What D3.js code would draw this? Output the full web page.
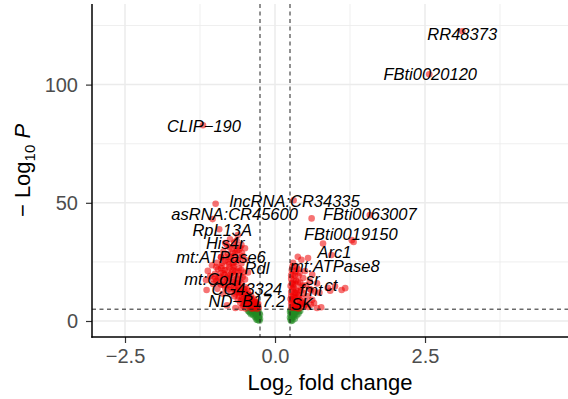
<!DOCTYPE html>
<html>
<head>
<meta charset="utf-8">
<script src="https://cdn.jsdelivr.net/npm/d3@7"></script>
<style>
   body { margin: 0; background: #fff; }
   svg text { font-family: "Liberation Sans", Arial, Helvetica, sans-serif; }
</style>
</head>
<body>
<svg id="chart" width="568" height="399"></svg>
<script>
/** DATA **/
// [log2 fold change, -log10 p] for genes passing both cutoffs
var redPoints = [
   [-0.99,49.6],[-0.62,36.4],[-0.75,34.6],[-0.68,33.2],[-0.56,32.2],[-0.8,32.0],
   [-0.5,30.8],[-0.72,30.5],[-0.63,29.8],[-0.86,29.4],[-0.55,28.6],[-0.78,28.3],
   [-0.68,27.6],[-0.9,27.1],[-0.6,26.8],[-0.74,26.2],[-0.5,25.9],[-0.83,25.5],
   [-0.65,25.0],[-0.97,24.6],[-0.56,24.3],[-0.77,24.0],
   [-1.05,23.6],[-0.88,23.2],[-0.7,22.8],[-0.6,22.3],[-0.95,21.9],[-0.8,21.5],
   [-1.12,21.2],[-0.66,20.9],[-0.52,20.5],[-0.86,20.2],[-1.0,20.0],
   [-0.74,19.7],[-0.58,19.3],[-1.08,19.0],[-0.92,18.7],[-0.8,18.4],[-0.64,18.0],
   [-0.5,17.6],[-1.15,17.3],[-0.98,17.0],[-0.86,16.7],[-0.7,16.4],[-0.56,16.1],
   [-1.03,15.7],[-0.9,15.4],[-0.77,15.1],[-0.62,14.8],[-0.5,14.4],[-0.83,14.0],
   [-0.96,13.6],[-0.68,13.3],[-1.14,13.1],[-0.56,12.9],[-0.45,12.5],[-0.74,12.2],
   [-0.6,11.8],[-0.87,11.5],[-0.5,11.2],[-0.4,10.9],[-0.68,10.5],[-0.55,10.1],
   [-0.44,9.7],[-0.35,9.4],[-0.62,9.0],[-0.5,8.6],[-0.4,8.3],[-0.31,8.0],
   [-0.58,7.7],[-0.47,7.4],[-0.37,7.1],[-0.29,6.8],[-0.8,6.6],[-0.53,6.4],
   [-0.43,6.1],[-0.34,5.9],[-0.27,5.6],[-0.66,5.5],[-0.49,5.3],[-0.39,5.2],[-0.3,5.1],
   [-0.7,24.5],[-0.62,21.0],[-0.72,20.4],[-0.6,17.0],[-0.66,15.8],[-0.52,13.6],
   [-0.58,12.4],[-0.46,10.4],[-0.38,9.0],[-0.33,6.9],[-0.42,7.9],[-0.76,17.9],
   [-0.84,19.5],[-0.9,22.4],[-0.6,30.0],[-0.7,29.0],[-0.66,31.5],[-0.73,27.0],
   [-0.54,27.4],[-0.94,18.2],[-0.74,14.5],[-0.66,11.3],[-0.52,9.3],[-0.45,6.7],
   [-0.64,34.0],[-0.58,31.0],[-0.76,31.2],[-0.66,28.8],[-0.82,27.0],[-0.62,25.8],
   [-0.78,25.0],[-0.88,24.6],[-0.68,23.4],[-0.76,22.6],[-0.84,21.6],[-0.98,22.8],
   [-0.56,21.6],[-0.7,21.4],[-0.9,20.4],[-0.66,19.2],[-0.78,19.0],[-1.0,18.4],
   [-0.54,18.6],[-0.72,17.2],[-0.86,17.8],[-0.94,16.2],[-0.62,16.0],[-0.8,16.2],
   [-0.58,14.2],[-0.68,14.2],[-0.86,15.2],[-0.62,13.0],[-0.78,13.4],[-0.5,12.0],
   [-0.64,12.2],[-0.54,11.4],[-0.44,11.2],[-0.6,10.4],[-0.48,9.8],[-0.4,9.5],
   [-0.56,8.8],[-0.46,8.4],[-0.34,8.2],[-0.52,7.2],[-0.4,6.6],[-0.3,6.0],
   [-0.36,5.4],[-0.56,5.6],[-0.28,7.3],[-0.33,7.7],
   [0.61,43.4],[1.31,33.4],[0.8,32.8],[0.44,25.9],[0.55,26.6],
   [0.3,24.6],[0.36,23.0],[0.28,21.6],[0.41,20.4],[0.33,19.2],[0.27,17.8],
   [0.47,18.2],[0.38,16.5],[0.3,15.4],[0.52,15.1],[0.43,14.2],[0.35,13.1],
   [0.27,12.3],[0.58,13.5],[0.66,12.4],[0.74,12.0],[0.48,11.7],[0.4,10.9],
   [0.32,10.2],[0.26,9.3],[0.45,9.5],[0.36,8.6],[0.29,7.8],[0.52,8.1],
   [0.42,7.1],[0.33,6.5],[0.27,5.7],[0.48,6.1],[0.6,6.9],[0.7,5.5],[0.77,5.8],
   [0.62,9.0],[0.55,10.6],[1.0,14.7],[1.11,13.1],[1.17,13.9],[0.92,12.8],
   [0.5,21.1],[0.62,19.6],[0.7,15.9],
   [0.3,11.0],[0.36,11.8],[0.28,8.6],[0.34,9.8],[0.4,6.2],[0.31,14.3],
   [0.35,17.0],[0.3,19.8],[0.38,21.9],[0.26,14.8],[0.44,12.9],[0.3,6.1],
   [0.37,5.4],[0.55,5.9],[0.65,7.6],
   [0.29,23.0],[0.34,21.0],[0.27,19.4],[0.31,17.2],[0.28,16.0],[0.34,15.6],
   [0.29,13.5],[0.38,12.6],[0.33,11.9],[0.27,10.6],[0.38,10.0],[0.3,9.0],
   [0.42,8.6],[0.27,7.4],[0.36,7.1],[0.45,7.6],[0.31,5.6],[0.4,5.3],
   [0.5,6.9],[0.34,6.0],[0.39,19.0],[0.42,16.3],[0.46,15.0]
];

// genes passing the fold change cutoff only
var greenPoints = [
   [-0.45,4.3],[-0.4,4.6],[-0.36,4.1],[-0.32,4.7],[-0.28,4.4],[-0.42,3.6],
   [-0.38,3.2],[-0.34,3.5],[-0.3,3.8],[-0.26,3.3],[-0.36,2.4],[-0.32,2.7],
   [-0.28,2.2],[-0.25,2.6],[-0.33,1.6],[-0.3,1.2],[-0.27,1.5],[-0.25,0.8],
   [-0.29,0.4],[-0.26,0.1],[-0.31,0.6],[-0.4,2.9],[-0.35,3.9],
   [-0.43,4.0],[-0.38,4.4],[-0.33,4.2],[-0.29,3.0],[-0.31,2.0],[-0.27,0.9],
   [0.26,4.5],[0.3,4.7],[0.34,4.3],[0.38,4.6],[0.42,4.2],[0.27,3.6],
   [0.31,3.3],[0.35,3.8],[0.39,3.1],[0.26,2.6],[0.29,2.2],[0.33,2.8],
   [0.36,2.3],[0.25,1.5],[0.28,1.1],[0.31,1.7],[0.26,0.5],[0.29,0.2],
   [0.27,0.0],[0.33,1.0],[0.25,3.9],
   [0.28,4.2],[0.32,4.0],[0.36,4.7],[0.3,2.6],[0.28,1.8],[0.4,4.0]
];

// labelled genes
var labelGenes = ['RR48373', 'FBti0020120', 'CLIP\u2212190', 'lncRNA:CR34335',
   'asRNA:CR45600', 'FBti0063007', 'RpL13A', 'FBti0019150', 'His4r', 'Arc1',
   'mt:ATPase6', 'mt:ATPase8', 'Rdl', 'mt:CoIII', 'sr', 'CG43324', 'ct', 'fmt',
   'ND\u2212B17.2', 'SK'];
var labelFc = [3.12, 2.57, -1.2, 0.31, -1.04, 1.58, -0.93, 1.28, -0.83, 0.94,
   -0.9, 0.38, -0.45, -1.03, 0.58, -0.47, 0.88, 0.6, -0.47, 0.45];
var labelP = [122.6, 104.4, 82.8, 51.1, 43.1, 44.8, 38.8, 34.2, 33.0, 27.9,
   27.0, 27.2, 20.5, 17.7, 16.8, 13.5, 14.0, 13.1, 8.5, 7.2];

var fcCutoff = 0.25;
var pCutoff = 5;
var xTicks = [-2.5, 0, 2.5];
var xMinor = [-1.25, 1.25, 3.75];
var yTicks = [0, 50, 100];
var yMinor = [25, 75, 125];

/** LAYOUT **/
// pixel nudges of the label text from its gene's point
var labelNudge = [[0,3],[1,0],[1,1],[1,1],[22,-5],[0,-1],[3,1],[-1,-6],[0,0],[3,-3],
   [0,0],[37,9],[9,-4],[0,0],[3,-2],[0,0],[3,-3],[0,0],[0,0],[0,0]];

var padLeft = 92, padRight = 568, padTop = 4, padBottom = 337;

var svg = d3.select('#chart');

var x = d3.scaleLinear().domain([-3.05, 4.883]).range([padLeft, padRight]);
var y = d3.scaleLinear().domain([-6.77, 134.1]).range([padBottom, padTop]);

/** GRID **/
var grid = svg.append('g');
function vLines(vals, w){
   grid.selectAll(null).data(vals).enter().append('line')
      .attr('x1', function(d){ return x(d); }).attr('x2', function(d){ return x(d); })
      .attr('y1', padTop).attr('y2', padBottom)
      .attr('stroke', '#ebebeb').attr('stroke-width', w);
}
function hLines(vals, w){
   grid.selectAll(null).data(vals).enter().append('line')
      .attr('y1', function(d){ return y(d); }).attr('y2', function(d){ return y(d); })
      .attr('x1', padLeft).attr('x2', padRight)
      .attr('stroke', '#ebebeb').attr('stroke-width', w);
}
vLines(xMinor, 0.8);
hLines(yMinor, 0.8);
vLines(xTicks, 1.5);
hLines(yTicks, 1.5);

/** POINTS **/
var labelPoints = labelGenes.map(function(g, i){ return [labelFc[i], labelP[i]]; });

function drawPoints(data, colour){
   svg.append('g').selectAll('circle')
      .data(data)
      .enter()
      .append('circle')
      .attr('cx', function(d){ return x(d[0]); })
      .attr('cy', function(d){ return y(d[1]); })
      .attr('r', 3.3)
      .attr('fill', colour)
      .attr('fill-opacity', 0.55);
}
drawPoints(greenPoints, '#228B22');
drawPoints(redPoints, '#EE0000');
drawPoints(labelPoints, '#EE0000');

/** CUTOFF LINES **/
var cut = svg.append('g')
   .attr('stroke', '#222').attr('stroke-width', 1).attr('stroke-dasharray', '4,3.5');
cut.selectAll(null).data([-fcCutoff, fcCutoff]).enter().append('line')
   .attr('x1', function(d){ return x(d); }).attr('x2', function(d){ return x(d); })
   .attr('y1', padTop).attr('y2', padBottom);
cut.append('line')
   .attr('x1', padLeft).attr('x2', padRight)
   .attr('y1', y(pCutoff)).attr('y2', y(pCutoff));

/** LABELS **/
svg.append('g').selectAll('text')
   .data(labelGenes)
   .enter()
   .append('text')
   .attr('x', function(d, i){ return x(labelFc[i]) + labelNudge[i][0]; })
   .attr('y', function(d, i){ return y(labelP[i]) + labelNudge[i][1]; })
   .attr('dy', '0.36em')
   .attr('text-anchor', 'middle')
   .style('font-style', 'italic')
   .style('font-size', '16.5px')
   .attr('fill', '#000')
   .text(function(d){ return d; });

/** AXES **/
var xAxis = svg.append('g')
   .attr('transform', 'translate(0,' + padBottom + ')')
   .call(d3.axisBottom(x).tickValues(xTicks).tickSize(6).tickPadding(6)
      .tickFormat(function(d){ return d3.format('.1f')(d).replace('-', '\u2212'); }));
var yAxis = svg.append('g')
   .attr('transform', 'translate(' + padLeft + ',0)')
   .call(d3.axisLeft(y).tickValues(yTicks).tickSize(6).tickPadding(8));

[xAxis, yAxis].forEach(function(a){
   a.select('.domain').remove();
   a.selectAll('.tick line').attr('stroke', '#333').attr('stroke-width', 1.2);
   a.selectAll('.tick text')
      .attr('fill', '#4d4d4d')
      .style('font-size', '20px')
      .style('font-family', '"Liberation Sans", Arial, sans-serif');
});

svg.append('line')
   .attr('x1', padLeft).attr('x2', padLeft).attr('y1', padTop).attr('y2', padBottom + 0.7)
   .attr('stroke', '#000').attr('stroke-width', 1.5);
svg.append('line')
   .attr('x1', padLeft - 0.7).attr('x2', padRight).attr('y1', padBottom).attr('y2', padBottom)
   .attr('stroke', '#000').attr('stroke-width', 1.5);

/** TITLES **/
var xt = svg.append('text')
   .attr('x', (padLeft + padRight) / 2)
   .attr('y', 390)
   .attr('text-anchor', 'middle')
   .style('font-size', '22px')
   .attr('fill', '#000');
xt.append('tspan').text('Log');
xt.append('tspan').attr('dy', 5).style('font-size', '15px').text('2');
xt.append('tspan').attr('dy', -5).text(' fold change');

var yt = svg.append('text')
   .attr('transform', 'translate(30,' + ((padTop + padBottom) / 2) + ') rotate(-90)')
   .attr('text-anchor', 'middle')
   .style('font-size', '22px')
   .attr('fill', '#000');
yt.append('tspan').text('\u2212 Log');
yt.append('tspan').attr('dy', 5).style('font-size', '15px').text('10');
yt.append('tspan').attr('dy', -5).text(' ');
yt.append('tspan').style('font-style', 'italic').text('P');
</script>
</body>
</html>
